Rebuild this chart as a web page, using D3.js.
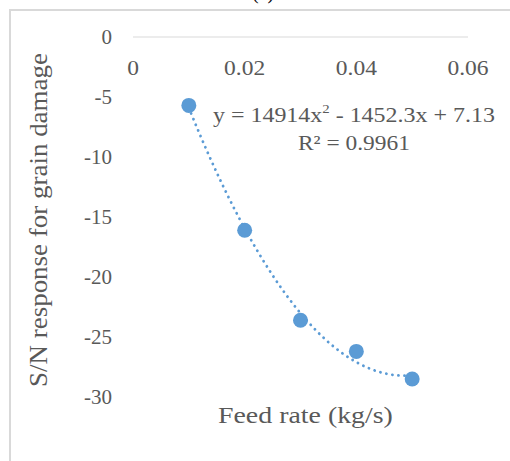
<!DOCTYPE html>
<html>
<head>
<meta charset="utf-8">
<script src="https://cdn.jsdelivr.net/npm/d3@7"></script>
<style>
  body { margin: 0; background: #fff; }
  text { font-family: "Liberation Serif", "Times New Roman", serif; fill: #595959; }
</style>
</head>
<body>
<svg></svg>
<script>
const width = 510;
const height = 461;

const feedRate = [0.01, 0.02, 0.03, 0.04, 0.05];
const snResponse = [-5.7, -16.1, -23.6, -26.2, -28.5];
const xTicks = [0, 0.02, 0.04, 0.06];
const yTicks = [0, -5, -10, -15, -20, -25, -30];
// trendline coefficients as printed on the chart: a*x^2 + b*x + c
const trendCoef = [14914, -1452.3, 7.13];

const svg = d3.select('svg')
	.attr('width', width)
	.attr('height', height);

// stretch a text horizontally so it spans a given width (the source font is wider than ours)
function fitWidth(g, target) {
	const w = g.node().getBBox().width;
	const t = g.attr('data-pos');
	g.attr('transform', `${t} scale(${target / w}, 1)`);
}

// frame
svg.append('path')
	.attr('d', 'M10,461 V10 H510')
	.attr('fill', 'none')
	.attr('stroke', '#d9d9d9')
	.attr('stroke-width', 2);

// cut-off caption at the very top
svg.append('text')
	.attr('x', 263)
	.attr('y', -1)
	.attr('text-anchor', 'middle')
	.attr('font-size', 20)
	.style('fill', '#000')
	.text('(c)');

const x = d3.scaleLinear().domain([0, 0.06]).range([133, 468]);
const y = d3.scaleLinear().domain([-30, 0]).range([397, 37]);

// x axis line at y = 0
svg.append('line')
	.attr('x1', x(0)).attr('x2', x(0.06))
	.attr('y1', y(0)).attr('y2', y(0))
	.attr('stroke', '#d9d9d9')
	.attr('stroke-width', 1);

svg.append('g').selectAll('text')
	.data(xTicks)
	.join('text')
		.attr('transform', d => `translate(${x(d)}, 75) scale(1.12, 1)`)
		.attr('text-anchor', 'middle')
		.attr('font-size', 21)
		.text(d => d);

svg.append('g').selectAll('text')
	.data(yTicks)
	.join('text')
		.attr('x', 112)
		.attr('y', d => y(d))
		.attr('dy', '0.35em')
		.attr('text-anchor', 'end')
		.attr('font-size', 21)
		.text(d => d === 0 ? '0' : '-' + Math.abs(d));

// trendline
const trend = d3.range(0, 81).map(i => {
	const xv = feedRate[0] + (feedRate[4] - feedRate[0]) * i / 80;
	return [xv, trendCoef[0] * xv * xv + trendCoef[1] * xv + trendCoef[2]];
});
svg.append('path')
	.datum(trend)
	.attr('d', d3.line().x(d => x(d[0])).y(d => y(d[1])))
	.attr('fill', 'none')
	.attr('stroke', '#5b9bd5')
	.attr('stroke-width', 2.8)
	.attr('stroke-linecap', 'round')
	.attr('stroke-dasharray', '0.1 6');

svg.append('g').selectAll('circle')
	.data(feedRate)
	.join('circle')
		.attr('cx', d => x(d))
		.attr('cy', (d, i) => y(snResponse[i]))
		.attr('r', 7.5)
		.attr('fill', '#5b9bd5');

// equation
const eq = svg.append('text')
	.attr('data-pos', 'translate(213, 122)')
	.attr('font-size', 21);
eq.append('tspan').text('y = 14914x');
eq.append('tspan').attr('dy', -9).attr('font-size', 13).text('2');
eq.append('tspan').attr('dy', 9).text('  - 1452.3x + 7.13');
fitWidth(eq, 282);

const r2 = svg.append('text')
	.attr('data-pos', 'translate(298, 150)')
	.attr('font-size', 21)
	.text('R² = 0.9961');
fitWidth(r2, 112);

// axis titles
const xt = svg.append('text')
	.attr('data-pos', 'translate(218, 423)')
	.attr('font-size', 23)
	.text('Feed rate (kg/s)');
fitWidth(xt, 175);

const yt = svg.append('text')
	.attr('transform', 'translate(47, 220) rotate(-90)')
	.attr('text-anchor', 'middle')
	.attr('font-size', 26)
	.attr('textLength', 334)
	.attr('lengthAdjust', 'spacingAndGlyphs')
	.text('S/N response for grain damage');
</script>
</body>
</html>
